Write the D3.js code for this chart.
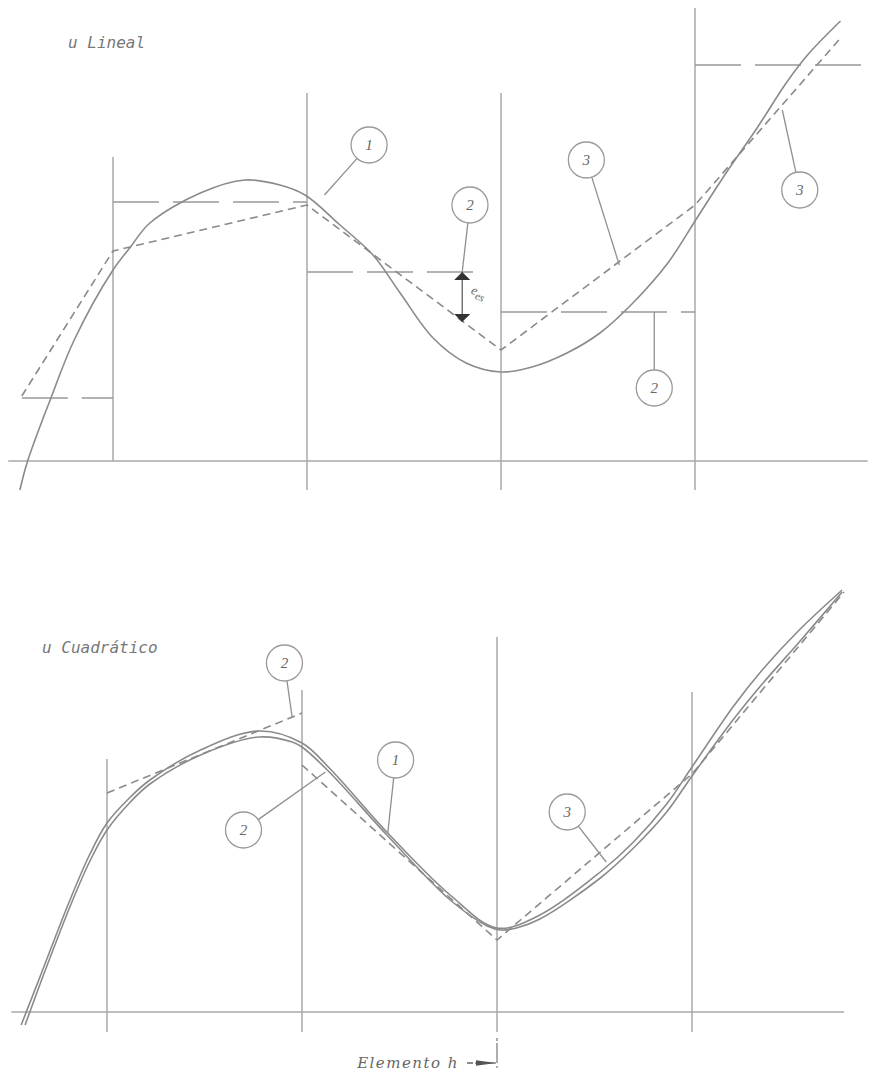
<!DOCTYPE html>
<html>
<head>
<meta charset="utf-8">
<script src="https://cdn.jsdelivr.net/npm/d3@7"></script>
<style>
body { margin: 0; background: #fff; }
</style>
</head>
<body>
<div id="fig"></div>
<script>
// ---- upper panel: linear element ----
var lin_exact_x = [-0.48, -0.44, -0.32, -0.20, 0, 0.09, 0.19, 0.45, 0.68, 0.86, 0.99, 1.17, 1.34, 1.48, 1.65, 1.82, 2.0, 2.16, 2.34, 2.51, 2.68, 2.86, 3.01, 3.16, 3.32, 3.47, 3.58, 3.75]
var lin_exact_y = [-0.29, 0, 0.63, 1.21, 1.91, 2.14, 2.38, 2.68, 2.81, 2.76, 2.66, 2.36, 2.06, 1.68, 1.23, 0.98, 0.89, 0.94, 1.08, 1.28, 1.58, 1.98, 2.43, 2.88, 3.33, 3.78, 4.06, 4.40]
var lin_dash_x = [-0.47, 0, 1, 2, 3, 3.75]
var lin_dash_y = [0.65, 2.10, 2.56, 1.11, 2.56, 4.23]
var lin_step_x0 = [-0.47, 0, 1, 2, 3]
var lin_step_x1 = [0, 1, 1.92, 3, 3.9]
var lin_step_y = [0.63, 2.59, 1.89, 1.49, 3.96]
var lin_grid_x = [0, 1, 2, 3]
var lin_grid_lo = [0, -0.29, -0.29, -0.29]
var lin_grid_hi = [3.04, 3.68, 3.68, 4.53]
var lin_call_text = ["1", "2", "3", "2", "3"]
var lin_call_x = [1.32, 1.84, 2.44, 2.79, 3.54]
var lin_call_y = [3.16, 2.56, 3.01, 0.73, 2.71]
var lin_call_tx = [1.09, 1.80, 2.61, 2.79, 3.45]
var lin_call_ty = [2.66, 1.89, 1.96, 1.49, 3.51]

// ---- lower panel: quadratic element ----
var quad_exact_x = [-0.44, -0.34, -0.19, -0.09, 0, 0.12, 0.22, 0.48, 0.78, 1.0, 1.14, 1.44, 1.76, 2.0, 2.22, 2.53, 2.70, 2.87, 3.0, 3.21, 3.36, 3.55, 3.77]
var quad_exact_y = [-0.13, 0.37, 1.12, 1.57, 1.89, 2.15, 2.32, 2.62, 2.81, 2.69, 2.44, 1.79, 1.17, 0.84, 0.97, 1.40, 1.70, 2.08, 2.45, 3.05, 3.42, 3.82, 4.22]
var quad_fit_x = [-0.42, -0.32, -0.18, -0.09, 0, 0.12, 0.22, 0.48, 0.78, 0.95, 1.0, 1.14, 1.44, 1.76, 1.95, 2.02, 2.1, 2.22, 2.53, 2.70, 2.87, 3.0, 3.21, 3.36, 3.55, 3.77]
var quad_fit_y = [-0.13, 0.40, 1.10, 1.50, 1.82, 2.10, 2.28, 2.57, 2.75, 2.70, 2.65, 2.40, 1.76, 1.12, 0.86, 0.82, 0.84, 0.93, 1.34, 1.64, 2.00, 2.36, 2.92, 3.28, 3.70, 4.20]
var quad_dash_a_x = [0, 1]
var quad_dash_a_y = [2.19, 2.99]
var quad_dash_b_x = [1, 2, 3, 3.78]
var quad_dash_b_y = [2.47, 0.72, 2.38, 4.20]
var quad_grid_x = [0, 1, 2, 3]
var quad_grid_lo = [-0.2, -0.2, -0.2, -0.2]
var quad_grid_hi = [2.53, 3.22, 3.75, 3.20]
var quad_call_text = ["2", "2", "1", "3"]
var quad_call_x = [0.91, 0.70, 1.48, 2.36]
var quad_call_y = [3.49, 1.82, 2.52, 2.0]
var quad_call_tx = [0.95, 1.12, 1.44, 2.56]
var quad_call_ty = [2.94, 2.40, 1.79, 1.50]

var ink = "#8a8a8a"
var grid_ink = "#a8a8a8"
var txt_ink = "#777"

let svg = d3.select("#fig")
    .append("svg")
    .attr("width", 871)
    .attr("height", 1075)

let defs = svg.append("defs")
defs.append("marker")
    .attr("id", "head")
    .attr("viewBox", "0 0 10 10")
    .attr("refX", 10)
    .attr("refY", 5)
    .attr("markerWidth", 8)
    .attr("markerHeight", 16)
    .attr("markerUnits", "userSpaceOnUse")
    .attr("orient", "auto-start-reverse")
    .attr("preserveAspectRatio", "none")
    .append("path")
    .attr("d", "M0,0 L10,5 L0,10 z")
    .attr("fill", "#333")
defs.append("marker")
    .attr("id", "wedge")
    .attr("viewBox", "0 0 10 10")
    .attr("refX", 10)
    .attr("refY", 5)
    .attr("markerWidth", 20)
    .attr("markerHeight", 7)
    .attr("markerUnits", "userSpaceOnUse")
    .attr("orient", "auto")
    .attr("preserveAspectRatio", "none")
    .append("path")
    .attr("d", "M0,1 L10,5 L0,9 z")
    .attr("fill", "#555")

var x1 = d3.scaleLinear().domain([0, 3]).range([113, 695])
var y1 = d3.scaleLinear().domain([0, 4]).range([461, 61])
var x2 = d3.scaleLinear().domain([0, 3]).range([107, 692])
var y2 = d3.scaleLinear().domain([0, 4]).range([1012, 612])

function zip(xs, ys) {
    return xs.map(function(d, i) { return [d, ys[i]] })
}

function panel(g, xs, ys, gx, glo, ghi, axis) {
    // element boundaries
    g.selectAll(".grid")
        .data(gx)
        .enter().append("line")
        .attr("x1", d => xs(d))
        .attr("x2", d => xs(d))
        .attr("y1", (d, i) => ys(glo[i]))
        .attr("y2", (d, i) => ys(ghi[i]))
        .attr("stroke", grid_ink)
        .attr("stroke-width", 1.5)
    g.append("line")
        .attr("x1", xs(axis[0]))
        .attr("x2", xs(axis[1]))
        .attr("y1", ys(0))
        .attr("y2", ys(0))
        .attr("stroke", grid_ink)
        .attr("stroke-width", 1.5)
}

function curve(g, xs, ys, px, py, smooth, dash) {
    var gen = d3.line()
        .x(d => xs(d[0]))
        .y(d => ys(d[1]))
        .curve(smooth ? d3.curveCatmullRom.alpha(0.5) : d3.curveLinear)
    g.append("path")
        .attr("d", gen(zip(px, py)))
        .attr("fill", "none")
        .attr("stroke", ink)
        .attr("stroke-width", 1.6)
        .attr("stroke-dasharray", dash)
}

function callouts(g, xs, ys, txt, cx, cy, tx, ty) {
    var r = 18
    txt.forEach(function(t, i) {
        var px = xs(cx[i]), py = ys(cy[i])
        var qx = xs(tx[i]), qy = ys(ty[i])
        var len = Math.hypot(qx - px, qy - py)
        g.append("line")
            .attr("x1", px + (qx - px) * r / len)
            .attr("y1", py + (qy - py) * r / len)
            .attr("x2", qx)
            .attr("y2", qy)
            .attr("stroke", "#8f8f8f")
            .attr("stroke-width", 1.3)
        g.append("circle")
            .attr("cx", px)
            .attr("cy", py)
            .attr("r", r)
            .attr("fill", "white")
            .attr("stroke", "#9a9a9a")
            .attr("stroke-width", 1.3)
        g.append("text")
            .attr("x", px)
            .attr("y", py + 5)
            .attr("text-anchor", "middle")
            .style("font-family", "'Liberation Serif', serif")
            .style("font-style", "italic")
            .style("font-size", "15px")
            .style("fill", "#666")
            .text(t)
    })
}

// upper panel
let top_g = svg.append("g")
panel(top_g, x1, y1, lin_grid_x, lin_grid_lo, lin_grid_hi, [-0.54, 3.89])

lin_step_y.forEach(function(v, i) {
    top_g.append("line")
        .attr("x1", x1(lin_step_x0[i]))
        .attr("x2", x1(lin_step_x1[i]))
        .attr("y1", y1(v))
        .attr("y2", y1(v))
        .attr("stroke", "#999")
        .attr("stroke-width", 1.5)
        .attr("stroke-dasharray", "46,14")
})
curve(top_g, x1, y1, lin_dash_x, lin_dash_y, false, "8,5")
curve(top_g, x1, y1, lin_exact_x, lin_exact_y, true, null)
callouts(top_g, x1, y1, lin_call_text, lin_call_x, lin_call_y, lin_call_tx, lin_call_ty)

// error arrow between constant and linear approximation
top_g.append("line")
    .attr("x1", x1(1.80))
    .attr("x2", x1(1.80))
    .attr("y1", y1(1.89))
    .attr("y2", y1(1.39))
    .attr("stroke", "#555")
    .attr("stroke-width", 1.2)
    .attr("marker-start", "url(#head)")
    .attr("marker-end", "url(#head)")
top_g.append("text")
    .attr("transform", "translate(" + (x1(1.80) + 8) + "," + (y1(1.64) - 4) + ") rotate(25)")
    .style("font-family", "'Liberation Serif', serif")
    .style("font-style", "italic")
    .style("font-size", "13px")
    .style("fill", "#666")
    .html("e<tspan dy='3' font-size='11px'>es</tspan>")

top_g.append("text")
    .attr("x", 68)
    .attr("y", 48)
    .style("font-family", "'DejaVu Sans Mono', monospace")
    .style("font-style", "italic")
    .style("font-size", "16px")
    .style("fill", txt_ink)
    .text("u Lineal")

// lower panel
let bot_g = svg.append("g")
panel(bot_g, x2, y2, quad_grid_x, quad_grid_lo, quad_grid_hi, [-0.49, 3.78])
curve(bot_g, x2, y2, quad_dash_a_x, quad_dash_a_y, false, "8,5")
curve(bot_g, x2, y2, quad_dash_b_x, quad_dash_b_y, false, "8,5")
curve(bot_g, x2, y2, quad_fit_x, quad_fit_y, true, null)
curve(bot_g, x2, y2, quad_exact_x, quad_exact_y, true, null)
callouts(bot_g, x2, y2, quad_call_text, quad_call_x, quad_call_y, quad_call_tx, quad_call_ty)

bot_g.append("text")
    .attr("x", 42)
    .attr("y", 653)
    .style("font-family", "'DejaVu Sans Mono', monospace")
    .style("font-style", "italic")
    .style("font-size", "16px")
    .style("fill", txt_ink)
    .text("u Cuadrático")

// element length marker
bot_g.append("line")
    .attr("x1", x2(2))
    .attr("x2", x2(2))
    .attr("y1", y2(-0.26))
    .attr("y2", y2(-0.59))
    .attr("stroke", "#777")
    .attr("stroke-width", 1.2)
    .attr("stroke-dasharray", "3,2,20")
bot_g.append("line")
    .attr("x1", x2(2) - 30)
    .attr("x2", x2(2) - 24)
    .attr("y1", y2(-0.51))
    .attr("y2", y2(-0.51))
    .attr("stroke", "#666")
    .attr("stroke-width", 1.5)
bot_g.append("line")
    .attr("x1", x2(2) - 22)
    .attr("x2", x2(2) - 1)
    .attr("y1", y2(-0.51))
    .attr("y2", y2(-0.51))
    .attr("stroke", "#555")
    .attr("stroke-width", 1)
    .attr("marker-end", "url(#wedge)")
bot_g.append("text")
    .attr("x", x2(2) - 38)
    .attr("y", y2(-0.56))
    .attr("text-anchor", "end")
    .style("font-family", "'DejaVu Serif', serif")
    .style("font-style", "italic")
    .style("font-size", "15px")
    .style("letter-spacing", "1.5px")
    .style("fill", "#666")
    .text("Elemento  h")
</script>
</body>
</html>
